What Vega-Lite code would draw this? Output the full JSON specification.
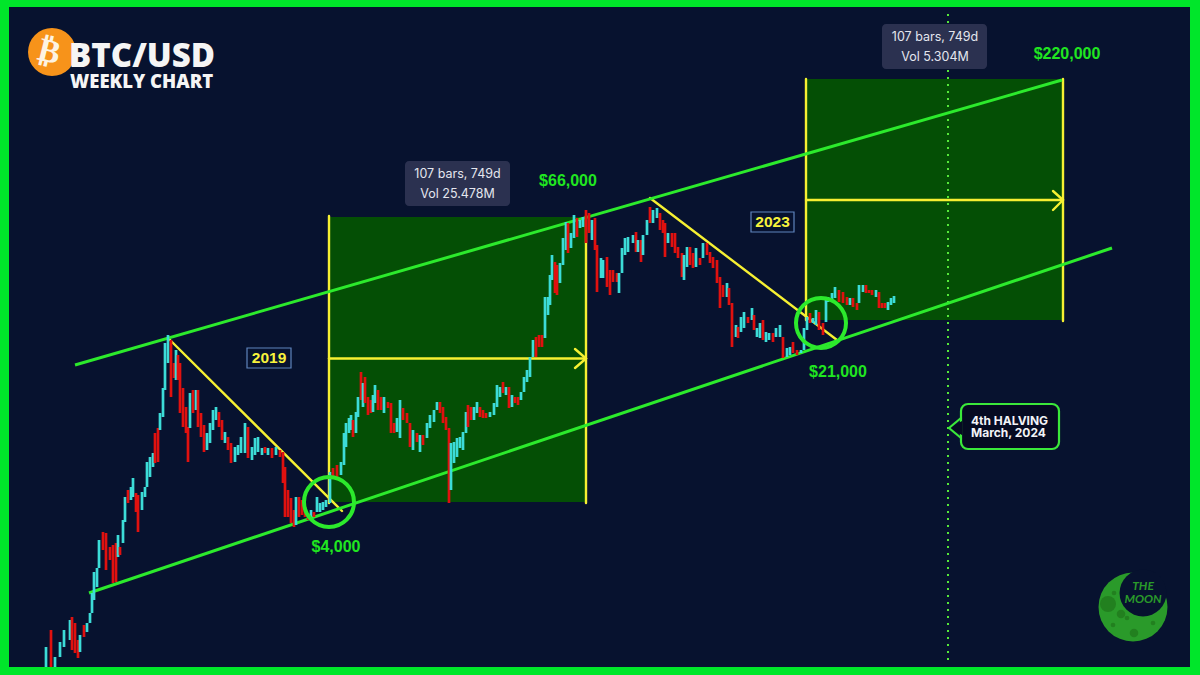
{
"$schema":"https://vega.github.io/schema/vega-lite/v6.json",
"autosize":{"type":"fit","contains":"padding"},
"width":1200,"height":675,"padding":0,
"background":"#00e62a",
"config":{"view":{"stroke":null}},
"datasets":{
"candles":[
{"x":46,"h":647,"l":667,"d":"up"},{"x":51,"h":630,"l":667,"d":"dn"},{"x":55,"h":657,"l":667,"d":"up"},{"x":60,"h":642,"l":657,"d":"up"},{"x":64,"h":630,"l":647,"d":"up"},{"x":70,"h":620,"l":640,"d":"up"},{"x":72,"h":617,"l":650,"d":"dn"},{"x":75,"h":623,"l":653,"d":"dn"},{"x":78,"h":640,"l":658,"d":"dn"},{"x":80,"h":635,"l":652,"d":"up"},{"x":84,"h":625,"l":637,"d":"dn"},{"x":87,"h":623,"l":632,"d":"up"},{"x":90,"h":613,"l":623,"d":"up"},{"x":92,"h":593,"l":613,"d":"up"},{"x":94,"h":572,"l":600,"d":"up"},{"x":97,"h":568,"l":587,"d":"up"},{"x":99,"h":540,"l":568,"d":"up"},{"x":103,"h":532,"l":550,"d":"dn"},{"x":106,"h":533,"l":570,"d":"dn"},{"x":110,"h":547,"l":560,"d":"dn"},{"x":113,"h":545,"l":583,"d":"dn"},{"x":116,"h":543,"l":582,"d":"dn"},{"x":118,"h":535,"l":557,"d":"up"},{"x":120,"h":547,"l":555,"d":"dn"},{"x":123,"h":520,"l":543,"d":"up"},{"x":125,"h":497,"l":522,"d":"up"},{"x":128,"h":490,"l":503,"d":"dn"},{"x":131,"h":487,"l":500,"d":"up"},{"x":133,"h":478,"l":497,"d":"up"},{"x":136,"h":493,"l":512,"d":"dn"},{"x":138,"h":495,"l":532,"d":"dn"},{"x":142,"h":492,"l":510,"d":"up"},{"x":145,"h":487,"l":497,"d":"up"},{"x":147,"h":462,"l":487,"d":"up"},{"x":150,"h":457,"l":477,"d":"up"},{"x":153,"h":453,"l":467,"d":"up"},{"x":155,"h":433,"l":463,"d":"dn"},{"x":158,"h":428,"l":462,"d":"dn"},{"x":160,"h":413,"l":430,"d":"up"},{"x":163,"h":388,"l":417,"d":"up"},{"x":165,"h":343,"l":390,"d":"up"},{"x":168,"h":335,"l":363,"d":"up"},{"x":171,"h":340,"l":397,"d":"dn"},{"x":174,"h":363,"l":378,"d":"dn"},{"x":176,"h":350,"l":380,"d":"up"},{"x":178,"h":355,"l":380,"d":"dn"},{"x":180,"h":363,"l":413,"d":"dn"},{"x":183,"h":388,"l":427,"d":"dn"},{"x":186,"h":407,"l":433,"d":"dn"},{"x":188,"h":427,"l":462,"d":"dn"},{"x":190,"h":393,"l":428,"d":"up"},{"x":193,"h":390,"l":413,"d":"dn"},{"x":196,"h":390,"l":410,"d":"up"},{"x":198,"h":390,"l":427,"d":"dn"},{"x":201,"h":413,"l":437,"d":"dn"},{"x":204,"h":425,"l":452,"d":"dn"},{"x":207,"h":433,"l":450,"d":"up"},{"x":210,"h":423,"l":443,"d":"up"},{"x":213,"h":410,"l":430,"d":"up"},{"x":216,"h":407,"l":420,"d":"up"},{"x":219,"h":412,"l":427,"d":"dn"},{"x":222,"h":420,"l":440,"d":"dn"},{"x":225,"h":432,"l":443,"d":"up"},{"x":228,"h":437,"l":450,"d":"dn"},{"x":231,"h":443,"l":463,"d":"dn"},{"x":235,"h":447,"l":462,"d":"up"},{"x":238,"h":445,"l":455,"d":"up"},{"x":241,"h":437,"l":453,"d":"up"},{"x":245,"h":423,"l":453,"d":"up"},{"x":248,"h":427,"l":458,"d":"dn"},{"x":252,"h":447,"l":460,"d":"up"},{"x":255,"h":438,"l":455,"d":"up"},{"x":258,"h":437,"l":452,"d":"up"},{"x":262,"h":448,"l":455,"d":"up"},{"x":265,"h":447,"l":453,"d":"dn"},{"x":268,"h":448,"l":455,"d":"up"},{"x":272,"h":448,"l":458,"d":"dn"},{"x":276,"h":447,"l":455,"d":"up"},{"x":280,"h":450,"l":457,"d":"dn"},{"x":283,"h":452,"l":483,"d":"dn"},{"x":285,"h":467,"l":517,"d":"dn"},{"x":288,"h":490,"l":517,"d":"dn"},{"x":291,"h":498,"l":523,"d":"dn"},{"x":294,"h":510,"l":527,"d":"dn"},{"x":296,"h":497,"l":525,"d":"up"},{"x":299,"h":497,"l":517,"d":"dn"},{"x":302,"h":500,"l":515,"d":"dn"},{"x":305,"h":507,"l":517,"d":"dn"},{"x":308,"h":513,"l":520,"d":"dn"},{"x":311,"h":510,"l":518,"d":"up"},{"x":314,"h":512,"l":517,"d":"dn"},{"x":317,"h":497,"l":512,"d":"up"},{"x":320,"h":503,"l":512,"d":"up"},{"x":323,"h":502,"l":510,"d":"up"},{"x":326,"h":500,"l":507,"d":"up"},{"x":330,"h":472,"l":503,"d":"up"},
{"x":333,"h":468,"l":478,"d":"dn"},{"x":337,"h":465,"l":477,"d":"dn"},{"x":341,"h":462,"l":475,"d":"up"},{"x":344,"h":433,"l":465,"d":"up"},{"x":346,"h":423,"l":447,"d":"up"},{"x":349,"h":418,"l":433,"d":"up"},{"x":351,"h":415,"l":430,"d":"up"},{"x":353,"h":420,"l":437,"d":"dn"},{"x":356,"h":412,"l":433,"d":"up"},{"x":358,"h":397,"l":417,"d":"up"},{"x":361,"h":372,"l":400,"d":"dn"},{"x":363,"h":383,"l":407,"d":"up"},{"x":365,"h":377,"l":403,"d":"dn"},{"x":368,"h":397,"l":415,"d":"dn"},{"x":371,"h":400,"l":413,"d":"dn"},{"x":373,"h":395,"l":412,"d":"up"},{"x":375,"h":385,"l":403,"d":"up"},{"x":378,"h":390,"l":410,"d":"dn"},{"x":381,"h":397,"l":410,"d":"dn"},{"x":384,"h":397,"l":413,"d":"up"},{"x":388,"h":402,"l":408,"d":"dn"},{"x":391,"h":403,"l":433,"d":"dn"},{"x":394,"h":423,"l":433,"d":"dn"},{"x":397,"h":418,"l":432,"d":"up"},{"x":400,"h":400,"l":438,"d":"up"},{"x":403,"h":408,"l":420,"d":"dn"},{"x":407,"h":413,"l":423,"d":"dn"},{"x":410,"h":423,"l":447,"d":"dn"},{"x":413,"h":430,"l":450,"d":"up"},{"x":417,"h":433,"l":442,"d":"dn"},{"x":420,"h":435,"l":452,"d":"up"},{"x":423,"h":435,"l":445,"d":"dn"},{"x":427,"h":423,"l":438,"d":"up"},{"x":430,"h":415,"l":428,"d":"up"},{"x":434,"h":410,"l":422,"d":"up"},{"x":437,"h":402,"l":410,"d":"up"},{"x":440,"h":402,"l":413,"d":"dn"},{"x":443,"h":407,"l":423,"d":"dn"},{"x":446,"h":417,"l":430,"d":"dn"},{"x":449,"h":428,"l":503,"d":"dn"},{"x":451,"h":443,"l":490,"d":"up"},{"x":454,"h":442,"l":463,"d":"up"},{"x":457,"h":438,"l":457,"d":"up"},{"x":460,"h":437,"l":448,"d":"up"},{"x":463,"h":432,"l":450,"d":"up"},{"x":466,"h":412,"l":433,"d":"up"},{"x":468,"h":405,"l":427,"d":"dn"},{"x":471,"h":407,"l":420,"d":"dn"},{"x":474,"h":407,"l":420,"d":"up"},{"x":477,"h":402,"l":413,"d":"up"},{"x":480,"h":407,"l":417,"d":"dn"},{"x":483,"h":410,"l":418,"d":"dn"},{"x":486,"h":413,"l":418,"d":"dn"},{"x":490,"h":412,"l":417,"d":"up"},{"x":494,"h":403,"l":415,"d":"up"},{"x":497,"h":385,"l":407,"d":"up"},{"x":500,"h":387,"l":397,"d":"up"},{"x":503,"h":382,"l":393,"d":"dn"},{"x":506,"h":387,"l":395,"d":"up"},{"x":509,"h":387,"l":408,"d":"dn"},{"x":512,"h":395,"l":407,"d":"up"},{"x":515,"h":397,"l":403,"d":"dn"},{"x":518,"h":397,"l":405,"d":"dn"},{"x":521,"h":392,"l":400,"d":"up"},{"x":524,"h":377,"l":392,"d":"up"},{"x":527,"h":370,"l":382,"d":"up"},{"x":530,"h":357,"l":377,"d":"up"},{"x":533,"h":340,"l":357,"d":"up"},{"x":536,"h":337,"l":357,"d":"dn"},{"x":539,"h":335,"l":347,"d":"dn"},{"x":542,"h":335,"l":347,"d":"dn"},{"x":545,"h":297,"l":338,"d":"up"},{"x":548,"h":297,"l":315,"d":"up"},{"x":550,"h":275,"l":305,"d":"up"},{"x":552,"h":255,"l":280,"d":"up"},{"x":555,"h":262,"l":293,"d":"dn"},{"x":557,"h":265,"l":295,"d":"dn"},{"x":560,"h":263,"l":283,"d":"up"},{"x":563,"h":238,"l":265,"d":"up"},{"x":566,"h":222,"l":250,"d":"up"},{"x":568,"h":223,"l":253,"d":"dn"},{"x":571,"h":233,"l":248,"d":"up"},{"x":574,"h":215,"l":238,"d":"up"},{"x":577,"h":218,"l":237,"d":"dn"},{"x":580,"h":220,"l":228,"d":"up"},{"x":583,"h":217,"l":227,"d":"up"},{"x":586,"h":210,"l":243,"d":"dn"},{"x":589,"h":213,"l":233,"d":"dn"},
{"x":592,"h":220,"l":240,"d":"up"},{"x":595,"h":218,"l":250,"d":"dn"},{"x":597,"h":245,"l":292,"d":"dn"},{"x":601,"h":258,"l":278,"d":"up"},{"x":603,"h":260,"l":278,"d":"up"},{"x":607,"h":257,"l":287,"d":"dn"},{"x":610,"h":270,"l":295,"d":"dn"},{"x":613,"h":270,"l":282,"d":"dn"},{"x":617,"h":273,"l":282,"d":"dn"},{"x":619,"h":273,"l":293,"d":"up"},{"x":622,"h":248,"l":273,"d":"up"},{"x":625,"h":238,"l":255,"d":"up"},{"x":628,"h":237,"l":252,"d":"up"},{"x":633,"h":235,"l":243,"d":"up"},{"x":636,"h":232,"l":252,"d":"dn"},{"x":638,"h":240,"l":252,"d":"up"},{"x":641,"h":240,"l":262,"d":"dn"},{"x":643,"h":235,"l":255,"d":"up"},{"x":647,"h":220,"l":235,"d":"up"},{"x":650,"h":207,"l":223,"d":"dn"},{"x":653,"h":210,"l":223,"d":"up"},{"x":657,"h":208,"l":218,"d":"up"},{"x":660,"h":213,"l":230,"d":"dn"},{"x":663,"h":220,"l":233,"d":"dn"},{"x":665,"h":223,"l":257,"d":"dn"},{"x":668,"h":233,"l":243,"d":"up"},{"x":672,"h":233,"l":247,"d":"dn"},{"x":675,"h":233,"l":253,"d":"dn"},{"x":678,"h":247,"l":258,"d":"dn"},{"x":682,"h":253,"l":277,"d":"dn"},{"x":684,"h":255,"l":280,"d":"up"},{"x":687,"h":247,"l":267,"d":"up"},{"x":690,"h":247,"l":265,"d":"dn"},{"x":693,"h":253,"l":268,"d":"dn"},{"x":696,"h":248,"l":267,"d":"up"},{"x":700,"h":258,"l":265,"d":"dn"},{"x":703,"h":243,"l":258,"d":"up"},{"x":707,"h":243,"l":255,"d":"dn"},{"x":710,"h":252,"l":263,"d":"dn"},{"x":713,"h":257,"l":268,"d":"dn"},{"x":717,"h":260,"l":283,"d":"dn"},{"x":720,"h":277,"l":308,"d":"dn"},{"x":723,"h":285,"l":297,"d":"dn"},{"x":727,"h":283,"l":297,"d":"up"},{"x":729,"h":288,"l":305,"d":"dn"},{"x":732,"h":303,"l":347,"d":"dn"},{"x":736,"h":325,"l":337,"d":"up"},{"x":738,"h":327,"l":338,"d":"dn"},{"x":741,"h":317,"l":332,"d":"up"},{"x":744,"h":312,"l":328,"d":"up"},{"x":748,"h":317,"l":323,"d":"dn"},{"x":752,"h":308,"l":320,"d":"up"},{"x":754,"h":315,"l":330,"d":"dn"},{"x":757,"h":328,"l":337,"d":"up"},{"x":760,"h":323,"l":338,"d":"up"},{"x":763,"h":320,"l":340,"d":"dn"},{"x":766,"h":332,"l":342,"d":"up"},{"x":769,"h":333,"l":340,"d":"up"},{"x":773,"h":333,"l":342,"d":"dn"},{"x":776,"h":328,"l":337,"d":"up"},{"x":780,"h":325,"l":337,"d":"up"},{"x":783,"h":337,"l":358,"d":"dn"},{"x":787,"h":348,"l":357,"d":"up"},{"x":790,"h":347,"l":355,"d":"up"},{"x":793,"h":342,"l":353,"d":"dn"},{"x":797,"h":350,"l":355,"d":"dn"},{"x":801,"h":350,"l":353,"d":"up"},{"x":804,"h":328,"l":350,"d":"up"},{"x":807,"h":317,"l":330,"d":"up"},{"x":810,"h":313,"l":323,"d":"dn"},{"x":813,"h":318,"l":323,"d":"up"},{"x":816,"h":310,"l":325,"d":"up"},{"x":819,"h":312,"l":330,"d":"dn"},{"x":823,"h":323,"l":335,"d":"dn"},{"x":826,"h":298,"l":322,"d":"up"},{"x":828,"h":297,"l":302,"d":"up"},{"x":832,"h":293,"l":300,"d":"up"},{"x":835,"h":287,"l":298,"d":"up"},{"x":839,"h":290,"l":302,"d":"dn"},{"x":843,"h":292,"l":303,"d":"dn"},{"x":847,"h":297,"l":305,"d":"dn"},{"x":850,"h":298,"l":305,"d":"up"},{"x":853,"h":298,"l":307,"d":"dn"},{"x":857,"h":303,"l":310,"d":"dn"},{"x":859,"h":285,"l":303,"d":"up"},{"x":863,"h":285,"l":292,"d":"up"},{"x":866,"h":285,"l":293,"d":"dn"},{"x":869,"h":290,"l":293,"d":"dn"},{"x":872,"h":290,"l":295,"d":"dn"},{"x":876,"h":290,"l":297,"d":"up"},{"x":879,"h":292,"l":308,"d":"dn"},{"x":882,"h":303,"l":308,"d":"dn"},{"x":885,"h":303,"l":308,"d":"dn"},{"x":888,"h":302,"l":310,"d":"up"},{"x":891,"h":298,"l":305,"d":"up"},{"x":894,"h":296,"l":303,"d":"up"}
]
},
"encoding":{
"x":{"field":"x","type":"quantitative","scale":{"domain":[0,1200],"nice":false,"zero":false},"axis":null},
"y":{"field":"y","type":"quantitative","scale":{"domain":[675,0],"nice":false,"zero":false},"axis":null}
},
"layer":[
{"data":{"values":[{"x":9,"x2":1190,"y":7,"y2":667}]},"mark":{"type":"rect","color":"#07122f"},"encoding":{"x2":{"field":"x2"},"y2":{"field":"y2"}}},
{"data":{"values":[{"x":329,"x2":586,"y":217,"y2":502},{"x":806,"x2":1063,"y":79,"y2":320}]},"mark":{"type":"rect","color":"#044f05"},"encoding":{"x2":{"field":"x2"},"y2":{"field":"y2"}}},
{"data":{"values":[{"x":948,"x2":948,"y":14,"y2":665}]},"mark":{"type":"rule","color":"#55e83a","strokeWidth":2,"strokeDash":[2,5]},"encoding":{"x2":{"field":"x2"},"y2":{"field":"y2"}}},
{"data":{"values":[
{"x":329,"x2":329,"y":216,"y2":503},{"x":586,"x2":586,"y":216,"y2":503},{"x":329,"x2":586,"y":358.5,"y2":358.5},{"x":575,"x2":586,"y":349,"y2":358.5},{"x":575,"x2":586,"y":368,"y2":358.5},
{"x":806,"x2":806,"y":79,"y2":320},{"x":1063,"x2":1063,"y":79,"y2":321},{"x":806,"x2":1063,"y":200,"y2":200},{"x":1053,"x2":1063,"y":191,"y2":200},{"x":1053,"x2":1063,"y":210,"y2":200},
{"x":169,"x2":342,"y":339,"y2":511},{"x":650,"x2":837,"y":198,"y2":340}
]},"mark":{"type":"rule","color":"#f6f032","strokeWidth":2.4,"strokeCap":"round"},"encoding":{"x2":{"field":"x2"},"y2":{"field":"y2"}}},
{"data":{"values":[{"x":75,"x2":1062,"y":365,"y2":80},{"x":89,"x2":1112,"y":593,"y2":248}]},"mark":{"type":"rule","color":"#2cea2c","strokeWidth":3},"encoding":{"x2":{"field":"x2"},"y2":{"field":"y2"}}},
{"data":{"name":"candles"},"mark":{"type":"rule","strokeWidth":2.7},"encoding":{"y":{"field":"h","type":"quantitative"},"y2":{"field":"l"},"color":{"field":"d","type":"nominal","scale":{"domain":["up","dn"],"range":["#3cdcd8","#e0110f"]},"legend":null}}},
{"data":{"values":[{"x":329,"y":502},{"x":821,"y":323}]},"mark":{"type":"point","shape":"circle","filled":false,"size":2500,"color":"#2cea2c","strokeWidth":4,"opacity":1}},
{"data":{"values":[{"x":405,"x2":510,"y":161,"y2":206},{"x":882,"x2":987,"y":24,"y2":69}]},"mark":{"type":"rect","color":"#2b3150","cornerRadius":4},"encoding":{"x2":{"field":"x2"},"y2":{"field":"y2"}}},
{"data":{"values":[{"x":457.5,"y":174,"t":"107 bars, 749d"},{"x":457.5,"y":194,"t":"Vol 25.478M"},{"x":935,"y":37,"t":"107 bars, 749d"},{"x":935,"y":57,"t":"Vol 5.304M"}]},"mark":{"type":"text","font":"Inter","fontSize":12.5,"color":"#e4e6ee","align":"center","baseline":"middle"},"encoding":{"text":{"field":"t"}}},
{"data":{"values":[{"x":247,"x2":291,"y":348,"y2":368},{"x":751,"x2":794,"y":212,"y2":232}]},"mark":{"type":"rect","color":"#07122f","stroke":"#5f84bd","strokeWidth":1.2},"encoding":{"x2":{"field":"x2"},"y2":{"field":"y2"}}},
{"data":{"values":[{"x":269,"y":358,"t":"2019"},{"x":772.5,"y":222,"t":"2023"}]},"mark":{"type":"text","font":"Liberation Sans","fontWeight":"bold","fontSize":15.5,"color":"#f8f23c","align":"center","baseline":"middle"},"encoding":{"text":{"field":"t"}}},
{"data":{"values":[{"x":336,"y":547,"t":"$4,000"},{"x":838,"y":372,"t":"$21,000"},{"x":568,"y":181,"t":"$66,000"},{"x":1067,"y":54,"t":"$220,000"}]},"mark":{"type":"text","font":"Liberation Sans","fontWeight":"bold","fontSize":16,"color":"#20e620","align":"center","baseline":"middle"},"encoding":{"text":{"field":"t"}}},
{"data":{"values":[{"x":961,"x2":1059,"y":404,"y2":449}]},"mark":{"type":"rect","color":"#060b22","stroke":"#3be83a","strokeWidth":2.2,"cornerRadius":7},"encoding":{"x2":{"field":"x2"},"y2":{"field":"y2"}}},
{"data":{"values":[{"x":956,"y":428}]},"mark":{"type":"point","shape":"triangle-left","filled":true,"size":190,"color":"#060b22","opacity":1}},
{"data":{"values":[{"x":961,"x2":949,"y":418,"y2":428},{"x":949,"x2":961,"y":428,"y2":438}]},"mark":{"type":"rule","color":"#3be83a","strokeWidth":2.2,"strokeCap":"round"},"encoding":{"x2":{"field":"x2"},"y2":{"field":"y2"}}},
{"data":{"values":[{"x":971,"y":420.5,"t":"4th HALVING"},{"x":971,"y":432.5,"t":"March, 2024"}]},"mark":{"type":"text","font":"Inter","fontWeight":"bold","fontSize":12,"color":"#f2f3f7","align":"left","baseline":"middle"},"encoding":{"text":{"field":"t"}}},
{"data":{"values":[{"x":52,"y":52}]},"mark":{"type":"point","shape":"circle","filled":true,"size":2300,"color":"#f7931a","opacity":1}},
{"data":{"values":[{"x":49,"y":52,"t":"₿"}]},"mark":{"type":"text","font":"DejaVu Sans","fontWeight":"bold","fontSize":33,"angle":14,"color":"#fdf3e2","align":"center","baseline":"middle"},"encoding":{"text":{"field":"t"}}},
{"data":{"values":[{"x":69,"y":56.5,"t":"BTC/USD"}]},"mark":{"type":"text","font":"Open Sans","fontWeight":800,"fontSize":33,"color":"#f5f5f5","align":"left","baseline":"middle"},"encoding":{"text":{"field":"t"}}},
{"data":{"values":[{"x":70,"y":81.5,"t":"WEEKLY CHART"}]},"mark":{"type":"text","font":"Open Sans","fontWeight":800,"fontSize":18.5,"color":"#f5f5f5","align":"left","baseline":"middle"},"encoding":{"text":{"field":"t"}}},
{"data":{"values":[{"x":1133,"y":607}]},"mark":{"type":"point","shape":"circle","filled":true,"size":4760,"color":"#2a9a2a","opacity":1}},
{"data":{"values":[{"x":1143,"y":593}]},"mark":{"type":"point","shape":"circle","filled":true,"size":2200,"color":"#07122f","opacity":1}},
{"data":{"values":[{"x":1108,"y":604}]},"mark":{"type":"point","shape":"circle","filled":true,"size":256,"color":"#22801f","opacity":1}},
{"data":{"values":[{"x":1121,"y":614},{"x":1134,"y":633}]},"mark":{"type":"point","shape":"circle","filled":true,"size":72,"color":"#22801f","opacity":1}},
{"data":{"values":[{"x":1114,"y":593},{"x":1127,"y":618},{"x":1113,"y":625},{"x":1153,"y":623}]},"mark":{"type":"point","shape":"circle","filled":true,"size":22,"color":"#22801f","opacity":1}},
{"data":{"values":[{"x":1143,"y":586,"t":"THE"},{"x":1143,"y":599,"t":"MOON"}]},"mark":{"type":"text","font":"Lato","fontWeight":"bold","fontStyle":"italic","fontSize":12,"color":"#2a9a2a","align":"center","baseline":"middle"},"encoding":{"text":{"field":"t"}}}
]
}
